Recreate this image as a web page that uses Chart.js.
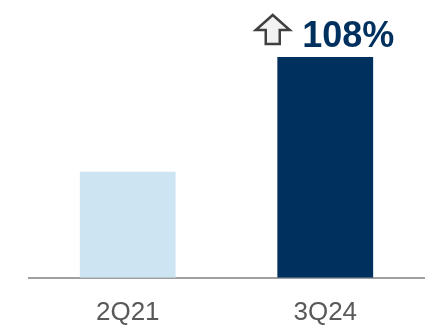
<!DOCTYPE html>
<html>
<head>
<meta charset="utf-8">
<script src="https://cdn.jsdelivr.net/npm/chart.js@4.4.0/dist/chart.umd.min.js"></script>
<style>
  html, body { margin: 0; padding: 0; background: #fff; }
  #wrap { width: 426px; height: 325px; position: relative; }
</style>
</head>
<body>
<div id="wrap"><canvas id="growthChart"></canvas></div>
<script>
var quarters = ['2Q21', '3Q24']
var values = [100, 208]
var barColors = ['#cde4f2', '#00305e']

var growthPct = Math.round((values[1] / values[0] - 1) * 100)

// hollow up-arrow plus the growth figure above the last bar
var growthLabel = {
  id: 'growthLabel',
  afterDatasetsDraw(chart) {
    var ctx = chart.ctx
    var bar = chart.getDatasetMeta(0).data[1]
    var cx = bar.x
    var top = bar.y

    ctx.save()
    var ax = cx - 52.5
    var ay = top - 42
    ctx.beginPath()
    ctx.moveTo(ax, ay)
    ctx.lineTo(ax + 17, ay + 15)
    ctx.lineTo(ax + 7, ay + 15)
    ctx.lineTo(ax + 7, ay + 29)
    ctx.lineTo(ax - 7, ay + 29)
    ctx.lineTo(ax - 7, ay + 15)
    ctx.lineTo(ax - 17, ay + 15)
    ctx.closePath()
    ctx.fillStyle = '#f2f2f2'
    ctx.fill()
    ctx.lineWidth = 2.5
    ctx.lineJoin = 'miter'
    ctx.strokeStyle = '#404040'
    ctx.stroke()

    ctx.font = 'bold 36px Arial, "Liberation Sans", sans-serif'
    ctx.fillStyle = '#00305e'
    ctx.textAlign = 'left'
    ctx.textBaseline = 'alphabetic'
    ctx.fillText(growthPct + '%', cx - 23, top - 10)
    ctx.restore()
  }
}

new Chart('growthChart', {
  type: 'bar',
  data: {
    labels: quarters,
    datasets: [
      {
        data: values,
        backgroundColor: barColors,
        barPercentage: 0.97,
        categoryPercentage: 0.5,
      },
    ],
  },
  options: {
    responsive: true,
    maintainAspectRatio: false,
    animation: false,
    layout: { padding: { top: 57, left: 29, right: 2, bottom: -22 } },
    plugins: {
      legend: { display: false },
      tooltip: { enabled: false },
    },
    scales: {
      x: {
        grid: { display: false, drawTicks: false },
        border: { display: true, color: '#a0a0a0', width: 2 },
        ticks: {
          padding: 19,
          color: '#595959',
          font: { family: 'Arial, "Liberation Sans", sans-serif', size: 26 },
        },
      },
      y: {
        display: false,
        min: 0,
        max: values[1],
      },
    },
  },
  plugins: [growthLabel],
})
</script>
</body>
</html>
